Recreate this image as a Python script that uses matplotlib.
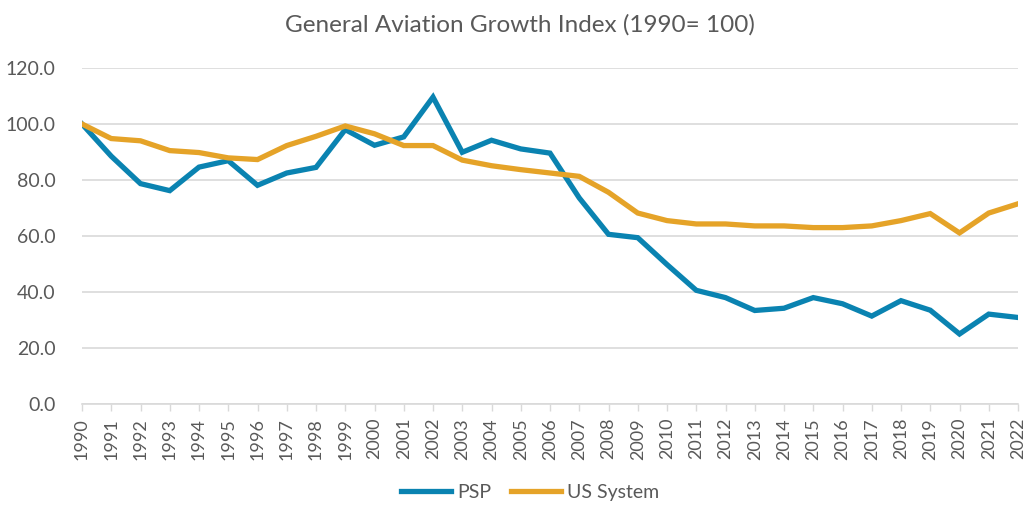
import matplotlib.pyplot as plt

years = list(range(1990, 2023))
psp = [100, 88.5, 78.7, 76.2, 84.6, 86.9, 78.1, 82.5, 84.5, 98.0, 92.4, 95.4, 109.6,
       89.9, 94.2, 91.1, 89.6, 73.6, 60.6, 59.4, 49.8, 40.6, 38.0, 33.4, 34.2, 38.0,
       35.8, 31.4, 36.9, 33.5, 25.0, 32.1, 30.9]
us_system = [100, 94.8, 94.0, 90.5, 89.8, 87.9, 87.3, 92.3, 95.6, 99.3, 96.5, 92.3, 92.3,
             87.1, 85.1, 83.7, 82.5, 81.3, 75.6, 68.2, 65.5, 64.3, 64.3, 63.6, 63.6, 63.0,
             63.0, 63.6, 65.5, 68.0, 61.1, 68.2, 71.5]

plt.rcParams['font.family'] = ['Lato', 'DejaVu Sans']
grey = '#595959'

fig = plt.figure(figsize=(10.29, 5.08), dpi=100)
ax = fig.add_axes([82/1029, 104/508, 936/1029, 336/508])

ax.plot(years, psp, color='#0A83B1', linewidth=3.8, label='PSP', solid_joinstyle='miter')
ax.plot(years, us_system, color='#E5A328', linewidth=3.8, label='US System', solid_joinstyle='miter')

ax.set_xlim(1990, 2022)
ax.set_ylim(0, 120)
ax.set_yticks(range(0, 121, 20))
ax.set_yticklabels(['%.1f' % v for v in range(0, 121, 20)], fontsize=14, color=grey)
ax.set_xticks(years)
ax.set_xticklabels([str(y) for y in years], rotation=90, fontsize=13, color=grey)
ax.tick_params(axis='y', length=0, pad=19)
ax.tick_params(axis='x', length=5, color='#D9D9D9', width=1, pad=5)

ax.grid(axis='y', color='#D9D9D9', linewidth=1.2)
ax.set_axisbelow(True)
for s in ['top', 'right', 'left']:
    ax.spines[s].set_visible(False)
ax.spines['bottom'].set_color('#D9D9D9')
ax.spines['bottom'].set_linewidth(1.2)

fig.text(0.505, 0.952, 'General Aviation Growth Index (1990= 100)', ha='center', va='center',
         fontsize=17.5, color=grey)

fig.legend(loc='center', bbox_to_anchor=(0.515, 0.03), ncol=2, frameon=False, fontsize=14,
           handlelength=2.6, columnspacing=1.0, handletextpad=0.3, labelcolor=grey)

fig.savefig('out.png', dpi=100)
